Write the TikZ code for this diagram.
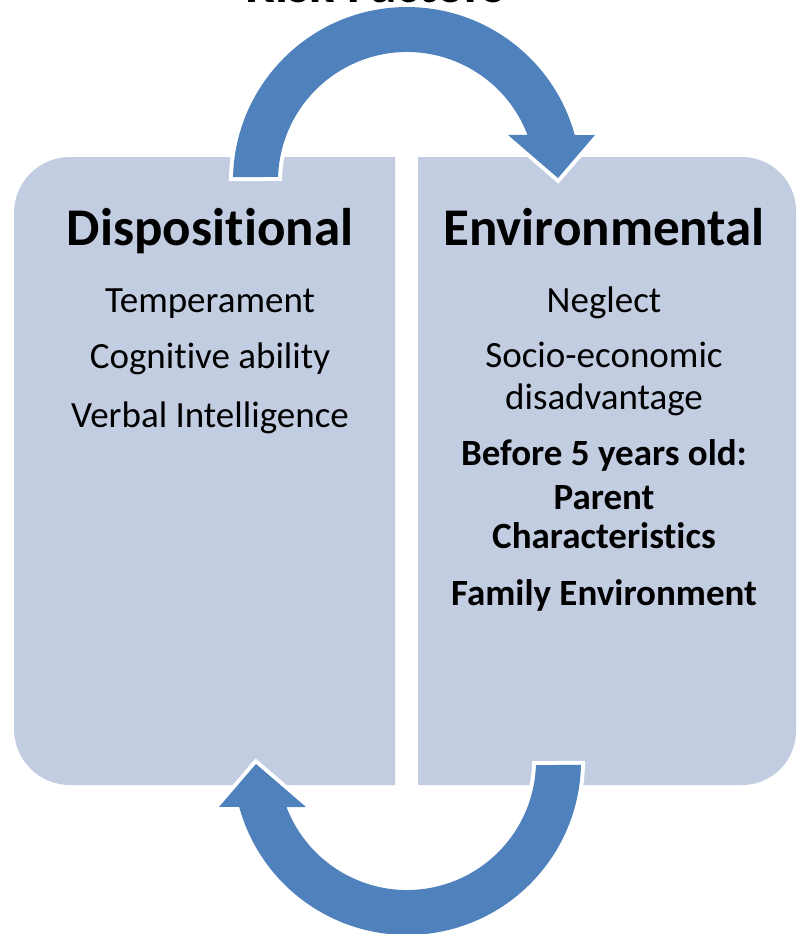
\documentclass[tikz,border=0pt]{standalone}
\usepackage{fontspec}
\setmainfont{Carlito}[Ligatures=NoCommon]
\definecolor{boxfill}{RGB}{195,205,226}
\definecolor{arrowblue}{RGB}{79,129,189}
\begin{document}
\begin{tikzpicture}[x=1pt,y=1pt,
  heading/.style={anchor=base, inner sep=0pt, font=\fontsize{53}{62}\selectfont\bfseries},
  item/.style={anchor=base, inner sep=0pt, font=\fontsize{37}{44}\selectfont},
  bolditem/.style={anchor=base, inner sep=0pt, font=\fontsize{37}{44}\selectfont\bfseries},
  panel/.style={fill=boxfill},
  looparrow/.style={fill=arrowblue, preaction={draw=white, line width=8pt, line join=miter}}]
\useasboundingbox (0,0) rectangle (796,-934);

% title, mostly above the page edge
\node[heading] (title) at (375,-3) {Risk Factors};

% left panel: rounded on the outer side
\fill[panel] (395,-157) -- (70,-157) arc[start angle=90, end angle=180, radius=56pt]
  -- (14,-729) arc[start angle=180, end angle=270, radius=56pt] -- (395,-785) -- cycle;
% right panel
\fill[panel] (418,-157) -- (742,-157) arc[start angle=90, end angle=0, radius=54pt]
  -- (796,-731) arc[start angle=0, end angle=-90, radius=54pt] -- (418,-785) -- cycle;

% circular arrow around the centre (407,-181), radii 174 and 129
\newcommand{\looppath}{%
  (233.04,-177.1) arc[start angle=178.7, end angle=15.3, radius=174pt]
  -- (595,-135) -- (558,-178) -- (508,-135)
  -- (527.51,-134.98) arc[start angle=20.9, end angle=178.2, radius=129pt] -- cycle}
\path[looparrow] \looppath;
\begin{scope}[rotate around={180:(407,-471)}]
  \path[looparrow] \looppath;
\end{scope}

% left column
\node[heading] (disp) at (210,-245) {Dispositional};
\node[item] (temp) at (210,-312) {Temperament};
\node[item] (cogn) at (210,-368) {Cognitive ability};
\node[item] (verb) at (210,-427) {Verbal Intelligence};

% right column
\node[heading] (env) at (604,-245) {Environmental};
\node[item] (negl) at (604,-312) {Neglect};
\node[item] (socio) at (604,-367) {Socio-economic};
\node[item] (disad) at (604,-409) {disadvantage};
\node[bolditem] (before) at (604,-465) {Before 5 years old:};
\node[bolditem] (parent) at (604,-509) {Parent};
\node[bolditem] (charac) at (604,-548) {Characteristics};
\node[bolditem] (family) at (604,-605) {Family Environment};
\end{tikzpicture}
\end{document}
